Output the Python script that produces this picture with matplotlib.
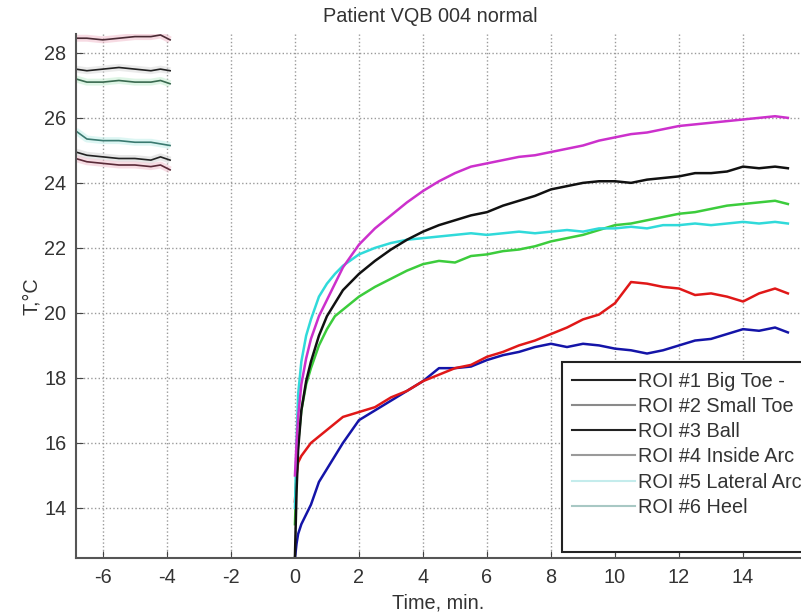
import matplotlib
matplotlib.use("Agg")
import matplotlib.pyplot as plt
from matplotlib.lines import Line2D

plt.rcParams['font.family'] = ['Liberation Sans', 'DejaVu Sans']
plt.rcParams['axes.unicode_minus'] = False

# ========== Data ==========
# baseline segment (before cooling), minutes
t_pre = [-6.85, -6.5, -6.0, -5.5, -5.0, -4.5, -4.2, -3.9]
pre_top = [28.45, 28.45, 28.4, 28.45, 28.5, 28.5, 28.55, 28.4]
pre_black1 = [27.5, 27.45, 27.5, 27.55, 27.5, 27.45, 27.5, 27.45]
pre_green = [27.2, 27.1, 27.1, 27.15, 27.1, 27.1, 27.15, 27.05]
pre_cyan = [25.6, 25.35, 25.3, 25.3, 25.25, 25.25, 25.2, 25.15]
pre_black2 = [24.95, 24.85, 24.8, 24.75, 24.75, 24.7, 24.8, 24.7]
pre_red = [24.75, 24.65, 24.6, 24.55, 24.55, 24.5, 24.55, 24.4]

# recovery segment (after cooling), minutes
t_post = [0, 0.05, 0.1, 0.2, 0.35, 0.5, 0.75, 1, 1.25, 1.5, 2, 2.5, 3, 3.5, 4, 4.5,
          5, 5.5, 6, 6.5, 7, 7.5, 8, 8.5, 9, 9.5, 10, 10.5, 11, 11.5, 12, 12.5,
          13, 13.5, 14, 14.5, 15, 15.4]
magenta = [15.0, 16.0, 16.8, 17.8, 18.6, 19.2, 19.9, 20.4, 20.9, 21.4, 22.1, 22.6,
           23.0, 23.4, 23.75, 24.05, 24.3, 24.5, 24.6, 24.7, 24.8, 24.85, 24.95, 25.05,
           25.15, 25.3, 25.4, 25.5, 25.55, 25.65, 25.75, 25.8, 25.85, 25.9, 25.95,
           26.0, 26.05, 26.0]
cyan = [14.0, 16.0, 17.5, 18.5, 19.3, 19.8, 20.5, 20.9, 21.2, 21.45, 21.8, 22.0,
        22.15, 22.25, 22.3, 22.35, 22.4, 22.45, 22.4, 22.45, 22.5, 22.45, 22.5, 22.55,
        22.5, 22.6, 22.6, 22.65, 22.6, 22.7, 22.7, 22.75, 22.7, 22.75, 22.8, 22.75,
        22.8, 22.75]
black = [12.5, 14.5, 15.8, 17.0, 17.9, 18.5, 19.3, 19.9, 20.3, 20.7, 21.2, 21.6,
         21.95, 22.25, 22.5, 22.7, 22.85, 23.0, 23.1, 23.3, 23.45, 23.6, 23.8, 23.9,
         24.0, 24.05, 24.05, 24.0, 24.1, 24.15, 24.2, 24.3, 24.3, 24.35, 24.5, 24.45,
         24.5, 24.45]
green = [13.5, 15.0, 16.0, 17.0, 17.8, 18.3, 19.0, 19.5, 19.9, 20.1, 20.5, 20.8,
         21.05, 21.3, 21.5, 21.6, 21.55, 21.75, 21.8, 21.9, 21.95, 22.05, 22.2, 22.3,
         22.4, 22.55, 22.7, 22.75, 22.85, 22.95, 23.05, 23.1, 23.2, 23.3, 23.35, 23.4,
         23.45, 23.35]
red = [14.2, 15.0, 15.4, 15.6, 15.8, 16.0, 16.2, 16.4, 16.6, 16.8, 16.95, 17.1,
       17.4, 17.6, 17.9, 18.1, 18.3, 18.4, 18.65, 18.8, 19.0, 19.15, 19.35, 19.55,
       19.8, 19.95, 20.3, 20.95, 20.9, 20.8, 20.75, 20.55, 20.6, 20.5, 20.35, 20.6,
       20.75, 20.6]
blue = [12.45, 12.9, 13.2, 13.5, 13.8, 14.1, 14.8, 15.2, 15.6, 16.0, 16.7, 17.0,
        17.3, 17.6, 17.9, 18.3, 18.3, 18.35, 18.55, 18.7, 18.8, 18.95, 19.05, 18.95,
        19.05, 19.0, 18.9, 18.85, 18.75, 18.85, 19.0, 19.15, 19.2, 19.35, 19.5, 19.45,
        19.55, 19.4]

legend_labels = ["ROI #1 Big Toe -", "ROI #2 Small Toe", "ROI #3 Ball",
                 "ROI #4 Inside Arc", "ROI #5 Lateral Arc", "ROI #6 Heel"]

FS = 14.3

# ========== Figure ==========
fig = plt.figure(figsize=(8.01, 6.15), dpi=100)
ax = fig.add_axes([76 / 801, 1 - 558 / 615, 1 - 76 / 801, (558 - 34) / 615])

# baseline lines: light halo + dark core
pre_series = [(pre_top, '#f0b8c8', '#4a2a34'), (pre_black1, '#d8d8d8', '#222222'),
              (pre_green, '#bfeccc', '#3a6a50'), (pre_cyan, '#bdeee8', '#3a7a70'),
              (pre_black2, '#d0d0d0', '#222222'), (pre_red, '#f0bccb', '#5a2a38')]
for vals, halo, core in pre_series:
    ax.plot(t_pre, vals, color=halo, lw=5, alpha=0.5, solid_capstyle='butt')
    ax.plot(t_pre, vals, color=core, lw=1.2)

post_series = [(blue, '#1414a8'), (red, '#e01818'), (green, '#3ccc3c'),
               (cyan, '#30dada'), (black, '#111111'), (magenta, '#cc30cc')]
for vals, col in post_series:
    ax.plot(t_post, vals, color=col, lw=1.8)

ax.set_xlim(-6.84, 15.81)
ax.set_ylim(12.46, 28.58)
ax.set_xticks(range(-6, 16, 2))
ax.set_yticks(range(14, 29, 2))
ax.grid(True, linestyle=':', color='#9a9a9a', linewidth=1.0)
ax.tick_params(direction='in', length=5, color='#444444', labelsize=FS,
               labelcolor='#333333', pad=7)
for side in ['top', 'right']:
    ax.spines[side].set_visible(False)
for side in ['left', 'bottom']:
    ax.spines[side].set_color('#555555')
    ax.spines[side].set_linewidth(1.5)

ax.set_xlabel("Time, min.", fontsize=FS, color='#333333', labelpad=5)
ax.set_ylabel("T,°C", fontsize=FS, color='#333333', labelpad=2)
fig.text(430 / 801, 1 - 16 / 615, "Patient VQB 004 normal", ha='center', va='center',
         fontsize=FS, color='#333333')

# legend with the faint sample colours of the original
leg_colors = ['#222222', '#8a8a8a', '#222222', '#9a9a9a', '#c4ecec', '#a8c8c4']
handles = [Line2D([0], [0], color=c, lw=1.5) for c in leg_colors]
handles.append(Line2D([0], [0], color='none'))
leg = fig.legend(handles, legend_labels + [" "], loc='upper left',
                 bbox_to_anchor=(562 / 801, 1 - 362 / 615), fontsize=FS,
                 handlelength=3.2, handletextpad=0.15, labelspacing=0.31,
                 borderaxespad=0, borderpad=0.5, fancybox=False, framealpha=1)
leg.get_frame().set_edgecolor('#222222')
leg.get_frame().set_linewidth(1.5)
for txt in leg.get_texts():
    txt.set_color('#333333')

fig.savefig("out.png", dpi=100)
